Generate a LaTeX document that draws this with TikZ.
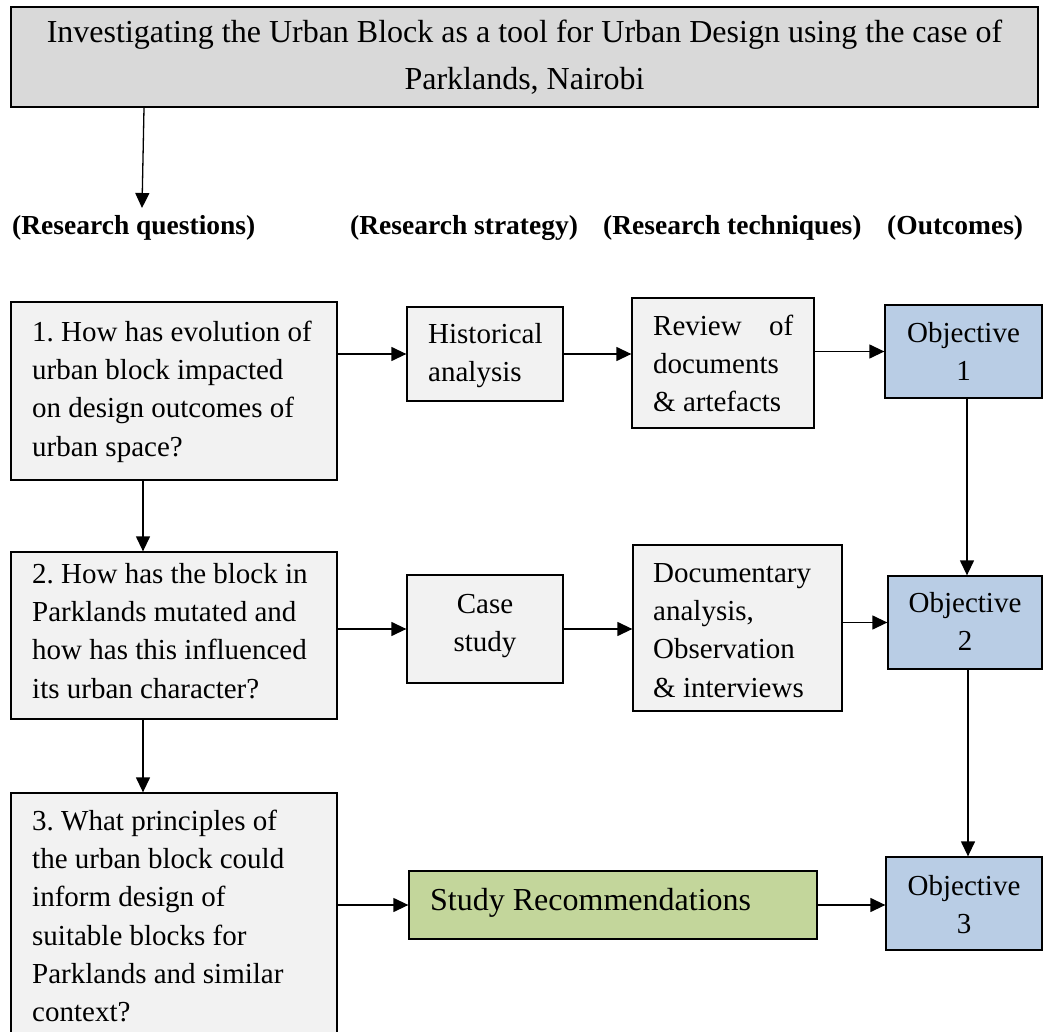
\documentclass[tikz,border=0pt]{standalone}
\usepackage{fontspec}
\setmainfont{Liberation Serif}
\usetikzlibrary{arrows.meta}
\definecolor{titlegrey}{HTML}{D9D9D9}
\definecolor{boxgrey}{HTML}{F2F2F2}
\definecolor{objblue}{HTML}{B9CDE5}
\definecolor{recgreen}{HTML}{C3D69B}
\newcommand\bodyfont{\fontsize{29}{38.3}\selectfont}
\newcommand\titlefont{\fontsize{32}{47}\selectfont}
\newcommand\headfont{\fontsize{27.5}{33}\selectfont\bfseries}
\newcommand\bstrut{\rule{0pt}{24pt}}
\newcommand\tstrut{\rule{0pt}{26pt}}
\frenchspacing
\begin{document}
\frenchspacing
\begin{tikzpicture}[x=1pt,y=-1pt,
  box/.style={draw=black,line width=1.3pt,fill=boxgrey,inner sep=0pt,rectangle},
  objbox/.style={box,fill=objblue},
  txt/.style={inner sep=0pt,anchor=north west,align=flush left,font=\bodyfont},
  ctxt/.style={inner sep=0pt,anchor=north,align=flush center,font=\bodyfont},
  head/.style={inner sep=0pt,anchor=base west,font=\headfont},
  arr/.style={line width=1.3pt,-{Triangle[length=15pt,width=14pt]}}]
\useasboundingbox (0,0) rectangle (1045,1032);
% boxes
\node[box,fill=titlegrey,line width=2pt,minimum width=1027pt,minimum height=100pt] (title) at (524.5,57) {};
\node[box,minimum width=326pt,minimum height=178pt] (q1) at (174,391) {};
\node[box,minimum width=326pt,minimum height=167pt] (q2) at (174,635.5) {};
\node[box,minimum width=326pt,minimum height=252pt] (q3) at (174,919) {};
\node[box,minimum width=156pt,minimum height=94pt] (hist) at (485,354) {};
\node[box,minimum width=156pt,minimum height=108pt] (case) at (485,629) {};
\node[box,minimum width=182pt,minimum height=130pt] (rev) at (723,363) {};
\node[box,minimum width=209pt,minimum height=166pt] (doc) at (737.5,628) {};
\node[objbox,minimum width=157pt,minimum height=93pt] (obj1) at (963.5,351.5) {};
\node[objbox,minimum width=154pt,minimum height=93pt] (obj2) at (965,622.5) {};
\node[objbox,minimum width=156pt,minimum height=93pt] (obj3) at (964,903.5) {};
\node[box,fill=recgreen,minimum width=408pt,minimum height=68pt] (study) at (613,905) {};
% texts
\node[ctxt,font=\titlefont,text width=1010pt] (titletext) at (524.5,16)
  {\tstrut Investigating the Urban Block as a tool for Urban Design using the case of\\Parklands, Nairobi};
\node[head] (h1) at (12,235) {(Research questions)};
\node[head] (h2) at (350,235) {(Research strategy)};
\node[head] (h3) at (603,235) {(Research techniques)};
\node[head] (h4) at (887,235) {(Outcomes)};
\node[txt,text width=310pt] (q1t) at (32,317)
  {\bstrut 1. How has evolution of\\urban block impacted\\on design outcomes of\\urban space?};
\node[txt,text width=310pt] (q2t) at (32,559)
  {\bstrut 2. How has the block in\\Parklands mutated and\\how has this influenced\\its urban character?};
\node[txt,text width=310pt] (q3t) at (32,806)
  {\bstrut 3. What principles of\\the urban block could\\inform design of\\suitable blocks for\\Parklands and similar\\context?};
\node[txt,text width=140pt] (histt) at (428,319) {\bstrut Historical\\analysis};
\node[ctxt,text width=150pt] (caset) at (485,589) {\bstrut Case\\study};
\node[txt,text width=140pt] (revt) at (653,311) {\bstrut Review\hfill of\\documents\\\& artefacts};
\node[txt,text width=200pt] (doct) at (653,558) {\bstrut Documentary\\analysis,\\Observation\\\& interviews};
\node[ctxt,text width=150pt] (obj1t) at (963.5,318) {\bstrut Objective\\1};
\node[ctxt,text width=150pt] (obj2t) at (965,588) {\bstrut Objective\\2};
\node[ctxt,text width=150pt] (obj3t) at (964,871) {\bstrut Objective\\3};
\node[inner sep=0pt,anchor=base west,font=\titlefont] (studyt) at (430,910) {Study Recommendations};
% connectors
\coordinate (hq) at (142,208);
\draw[arr] ([xshift=-380.5pt]title.south) -- (hq);
\draw[arr] ([xshift=-31pt]q1.south) -- ([xshift=-31pt]q1.south |- q2.north);
\draw[arr] ([xshift=-31pt]q2.south) -- ([xshift=-31pt]q2.south |- q3.north);
\draw[arr] (q1.east |- hist.west) -- (hist.west);
\draw[arr] (hist.east) -- (hist.east -| rev.west);
\draw[arr] (rev.east |- obj1.west) -- (obj1.west);
\draw[arr] (q2.east |- case.west) -- (case.west);
\draw[arr] (case.east) -- (case.east -| doc.west);
\draw[arr] (doc.east |- obj2.west) -- (obj2.west);
\draw[arr] (q3.east |- study.west) -- (study.west);
\draw[arr] (study.east) -- (study.east -| obj3.west);
\draw[arr] ([xshift=3.5pt]obj1.south) -- ([xshift=3.5pt]obj1.south |- obj2.north);
\draw[arr] ([xshift=3pt]obj2.south) -- ([xshift=3pt]obj2.south |- obj3.north);
\end{tikzpicture}
\end{document}
